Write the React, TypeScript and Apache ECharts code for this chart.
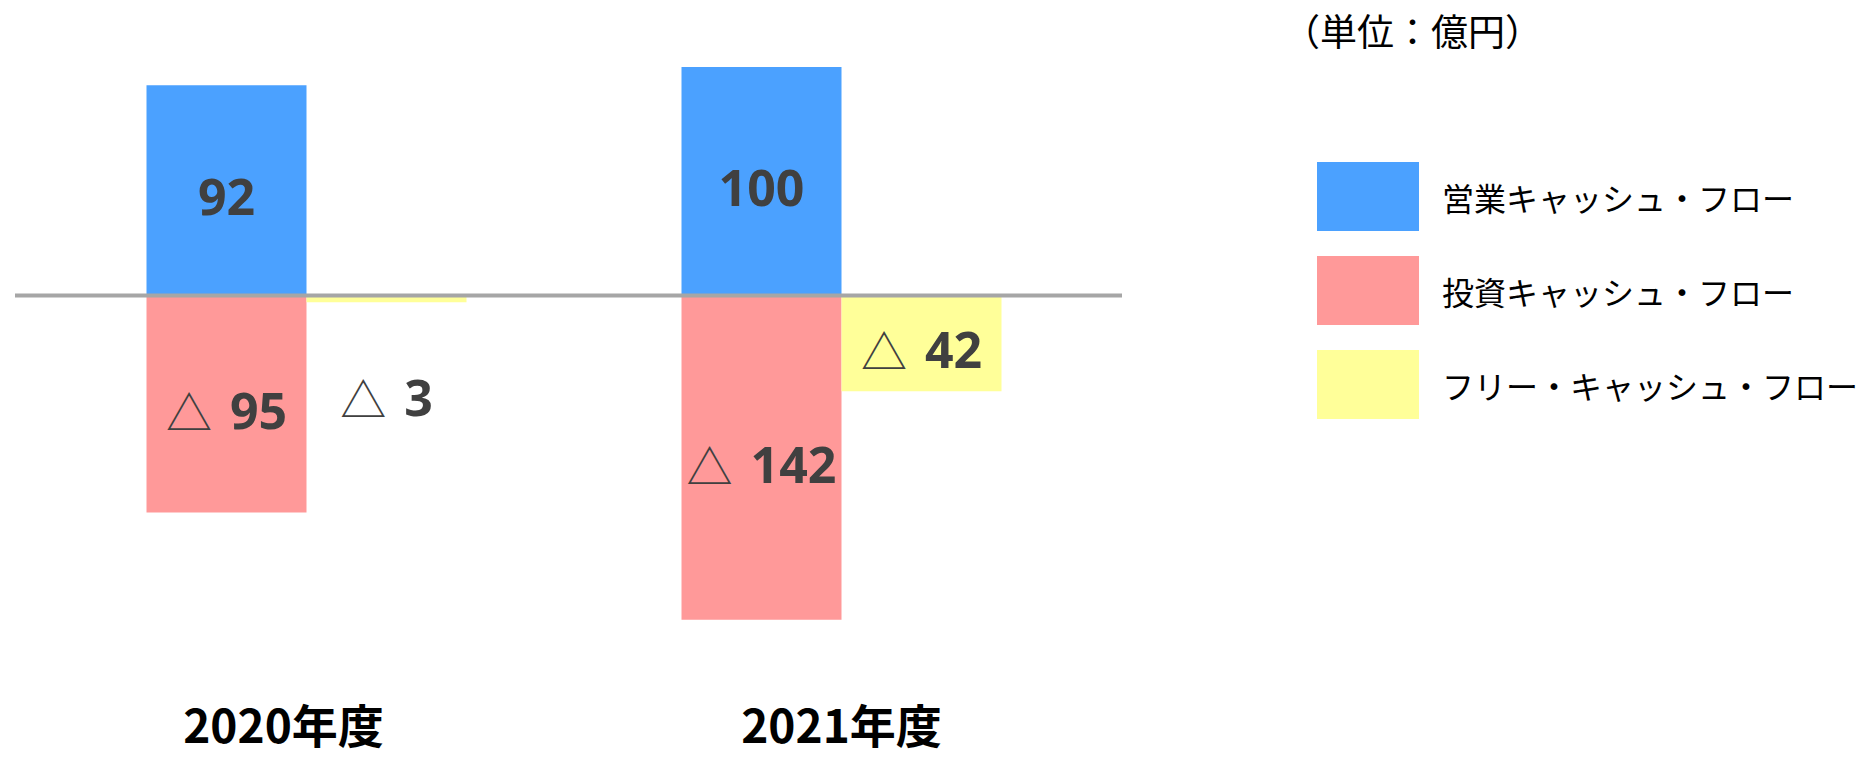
import React, { useEffect, useRef } from "react";
import * as echarts from "echarts";

const categories = ["2020年度", "2021年度"];
const seriesNames = ["営業キャッシュ・フロー", "投資キャッシュ・フロー", "フリー・キャッシュ・フロー"];
const operatingCF = [92, 100];
const investingCF = [-95, -142];
const freeCF = [-3, -42];
const unitLabel = "（単位：億円）";

const COLORS = ["#4BA1FF", "#FF9999", "#FFFF99"];
const JP = "'Noto Sans CJK JP', 'Noto Sans', sans-serif";

function fmt(p: any) {
  const v = typeof p.value === "number" ? p.value : p.value?.value ?? p.data?.value;
  if (v < 0) return `{t|△}{n|${Math.abs(v)}}`;
  return `{n|${v}}`;
}

const labelBase = {
  show: true,
  position: "inside",
  offset: [0, 6],
  formatter: fmt,
  rich: {
    n: { fontSize: 50, fontWeight: "bold", color: "#404040", fontFamily: "'Noto Sans', sans-serif" },
    t: { fontSize: 46, fontWeight: "normal", color: "#404040", fontFamily: JP, padding: [0, 18, 0, 0] },
  },
};

export default function App() {
  const ref = useRef<HTMLDivElement>(null);
  useEffect(() => {
    if (!ref.current) return;
    const chart = echarts.init(ref.current, null, { renderer: "svg" });
    chart.setOption({
      animation: false,
      backgroundColor: "#ffffff",
      title: {
        text: unitLabel,
        left: 1283,
        top: 11,
        padding: 0,
        textStyle: { fontSize: 37, fontWeight: "normal", color: "#000", fontFamily: JP, lineHeight: 38 },
      },
      legend: {
        orient: "vertical",
        left: 1317,
        top: 162,
        padding: 0,
        icon: "rect",
        itemWidth: 102,
        itemHeight: 69,
        itemGap: 25,
        data: seriesNames,
        textStyle: { fontSize: 32, color: "#000", fontFamily: JP, padding: [0, 0, 0, 18] },
      },
      grid: { left: 39, width: 1070, top: 67, height: 571 },
      xAxis: {
        type: "category",
        data: categories.map((c, i) =>
          i === 0 ? { value: c, textStyle: { padding: [0, 46, 0, 0] } } : c
        ),
        axisLine: { show: false, onZero: false },
        axisTick: { show: false },
        splitLine: { show: false },
        axisLabel: {
          margin: 62,
          fontSize: 46,
          lineHeight: 46,
          fontWeight: "bold",
          color: "#000",
          fontFamily: JP,
        },
      },
      yAxis: {
        type: "value",
        min: -150,
        max: 100,
        show: false,
        splitLine: { show: false },
      },
      series: [
        {
          name: seriesNames[0],
          type: "bar",
          stack: "cf",
          barWidth: 160,
          barGap: "0%",
          data: operatingCF,
          itemStyle: { color: COLORS[0] },
          label: labelBase,
        },
        {
          name: seriesNames[1],
          type: "bar",
          stack: "cf",
          barWidth: 160,
          barGap: "0%",
          data: investingCF,
          itemStyle: { color: COLORS[1] },
          label: labelBase,
        },
        {
          name: seriesNames[2],
          type: "bar",
          barWidth: 160,
          barGap: "0%",
          data: freeCF.map((v) =>
            Math.abs(v) < 10 ? { value: v, label: { offset: [0, 98] } } : v
          ),
          itemStyle: { color: COLORS[2] },
          label: labelBase,
        },
      ],
    });
    const y0 = chart.convertToPixel({ yAxisIndex: 0 }, 0) as number;
    chart.setOption({
      graphic: [
        {
          type: "line",
          z: 100,
          shape: { x1: 15, y1: y0, x2: 1122, y2: y0 },
          style: { stroke: "#A6A6A6", lineWidth: 4 },
        },
      ],
    });
    return () => chart.dispose();
  }, []);
  return (
    <div
      ref={ref}
      style={{ position: "fixed", left: 0, top: 0, width: 1870, height: 757 }}
    />
  );
}
